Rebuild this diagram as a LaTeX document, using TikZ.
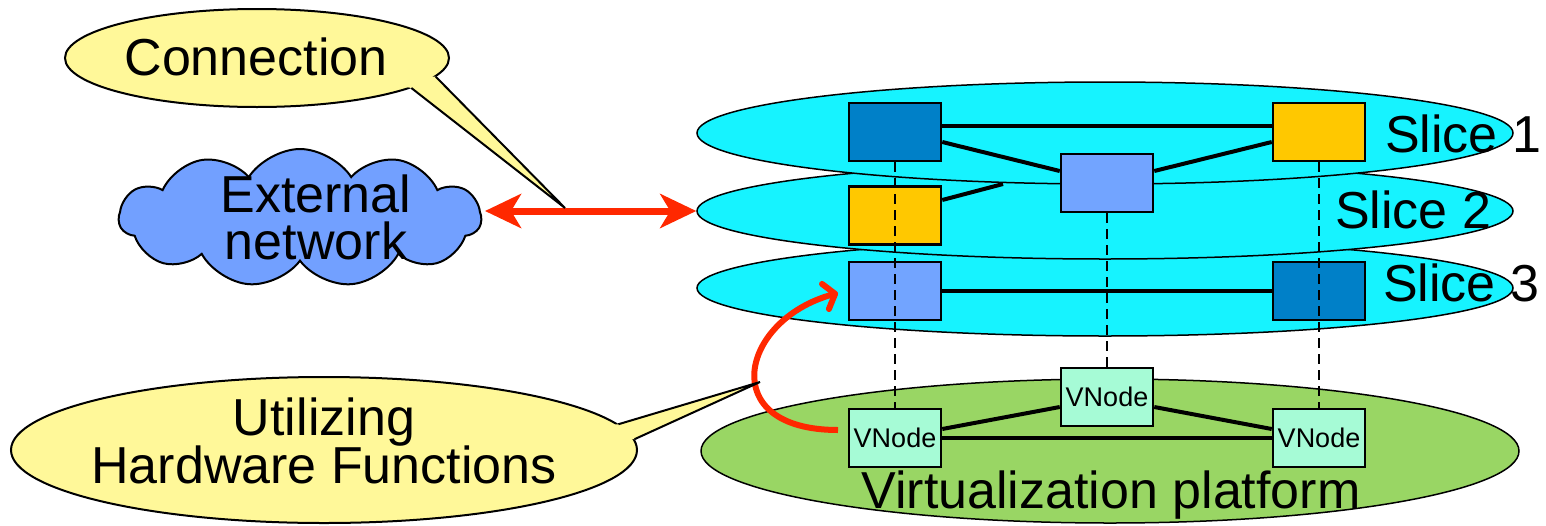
\documentclass[tikz,border=0pt]{standalone}
\usepackage{fontspec}
\setmainfont{Liberation Sans}
\usetikzlibrary{shapes.geometric,shapes.symbols,arrows.meta}
\definecolor{slicecyan}{RGB}{22,243,255}
\definecolor{darkblue}{RGB}{0,128,200}
\definecolor{sqyellow}{RGB}{255,200,0}
\definecolor{lightblue}{RGB}{114,164,255}
\definecolor{mint}{RGB}{166,251,214}
\definecolor{platgreen}{RGB}{153,214,100}
\definecolor{callyellow}{RGB}{255,248,153}
\definecolor{cloudblue}{RGB}{114,160,255}
\definecolor{arrred}{RGB}{255,40,0}
\tikzset{
  bigtext/.style={font=\fontsize{52pt}{50pt}\selectfont, inner sep=0pt},
  slicebox/.style={ellipse, draw=black, line width=1.5pt, fill=slicecyan, minimum width=816pt},
  sq/.style={rectangle, draw=black, line width=2.5pt, minimum width=92pt, minimum height=58pt, inner sep=0pt},
  vnode/.style={sq, fill=mint, font=\fontsize{27pt}{27pt}\selectfont},
  link/.style={line width=4pt},
  vlink/.style={line width=2.8pt, dash pattern=on 10pt off 6pt},
  bubble/.style={ellipse, draw=black, line width=2pt, fill=callyellow},
  tailfill/.style={fill=callyellow},
  tailline/.style={draw=black, line width=2pt, line join=miter},
  redarrow/.style={draw=arrred, line width=7pt},
}
\begin{document}
\begin{tikzpicture}[x=1pt,y=-1pt]
\useasboundingbox (0,0) rectangle (1546,525);

% virtualization platform
\node[ellipse, draw=black, line width=1.5pt, fill=platgreen, minimum width=818pt, minimum height=144pt] (vp) at (1110,451) {};
\node[bigtext, anchor=base] (vptext) at (1111,508) {Virtualization platform};

% slice 3
\node[slicebox, minimum height=96pt] (sl3) at (1105,288) {};
\node[sq, fill=lightblue] (s3a) at (895,291) {};
\node[sq, fill=darkblue] (s3b) at (1319,291) {};
\draw[link] (s3a.east) -- (s3b.west);

% slice 2
\node[slicebox, minimum height=96pt] (sl2) at (1105,211) {};
\node[sq, fill=sqyellow] (s2a) at (895,215.5) {};
\coordinate (stub) at (1003,184);
\draw[link] ([yshift=15.5pt]s2a.east) -- (stub);

% slice 1
\node[slicebox, minimum height=102pt] (sl1) at (1105,133) {};
\node[sq, fill=darkblue] (s1a) at (895,132) {};
\node[sq, fill=sqyellow] (s1b) at (1319,132) {};
\node[sq, fill=lightblue] (sc) at (1107,183) {};
\draw[link] ([yshift=6pt]s1a.east) -- ([yshift=6pt]s1b.west);
\draw[link] ([yshift=-10pt]s1a.east) -- ([yshift=12pt]sc.west);
\draw[link] ([yshift=-10pt]s1b.west) -- ([yshift=12pt]sc.east);

% slice labels
\node[bigtext, anchor=base west] (lab1) at (1385,152) {Slice 1};
\node[bigtext, anchor=base west] (lab2) at (1335,228) {Slice 2};
\node[bigtext, anchor=base west] (lab3) at (1383,301) {Slice 3};

% vnodes
\node[vnode] (vl) at (895,438) {VNode};
\node[vnode] (vm) at (1107,397) {VNode};
\node[vnode] (vr) at (1319,438) {VNode};
\draw[link] (vl.east) -- (vr.west);
\draw[link] ([yshift=9pt]vl.east) -- ([yshift=-10pt]vm.west);
\draw[link] ([yshift=-10pt]vm.east) -- ([yshift=9pt]vr.west);

% dashed mappings
\draw[vlink] (s1a.south) -- (vl.north);
\draw[vlink] (sc.south) -- (vm.north);
\draw[vlink] (s1b.south) -- (vr.north);

% external network
\node[cloud, cloud puffs=11, cloud puff arc=115, cloud ignores aspect, draw=black, line width=2pt, fill=cloudblue, minimum width=362pt, minimum height=138pt] (cloud) at (300,218) {};
\node[bigtext, align=center] (cloudtext) at (316,217) {External\\[-3pt]network};

% connection arrow
\coordinate (ltip) at (485,211);
\coordinate (ctip) at (565,208);
\draw[redarrow, {Stealth[length=36pt,width=34pt,inset=10pt]}-{Stealth[length=36pt,width=34pt,inset=10pt]}] (ltip) -- (sl2.west);

% hardware arrow
\coordinate (hstart) at (838,430);
\coordinate (hend) at (838,293);
\coordinate (htip) at (760,382);
\draw[draw=arrred, line width=6pt, -{Straight Barb[length=10pt,width=26pt,round]}] (hstart) .. controls (715,430) and (740,320) .. (hend);

% callouts
\node[bubble, minimum width=384pt, minimum height=98pt] (conn) at (257,58) {};
\fill[tailfill] (conn.-6) -- (ctip) -- (conn.-11) -- (conn.center) -- cycle;
\draw[tailline] (conn.-6) -- (ctip) -- (conn.-11);
\node[bigtext, anchor=base] (conntext) at (256,75) {Connection};

\node[bubble, minimum width=626pt, minimum height=146pt] (util) at (324,450) {};
\fill[tailfill] (util.5.5) -- (htip) -- (util.2.2) -- (util.center) -- cycle;
\draw[tailline] (util.5.5) -- (htip) -- (util.2.2);
\node[bigtext, align=center] (utiltext) at (324,441) {Utilizing\\[-2pt]Hardware Functions};
\end{tikzpicture}
\end{document}
